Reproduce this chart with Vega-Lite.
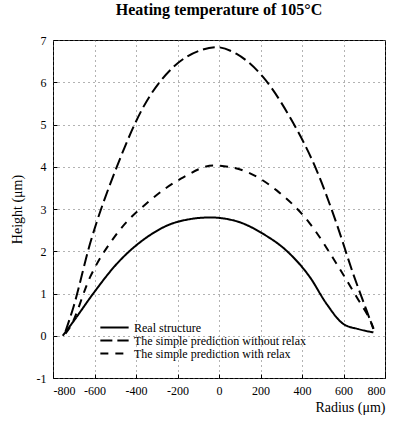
{
  "$schema": "https://vega.github.io/schema/vega-lite/v6.json",
  "autosize": "none",
  "width": 332,
  "height": 338,
  "padding": {"left": 53, "top": 40, "right": 8, "bottom": 47},
  "background": "white",
  "config": {
    "font": "Liberation Serif",
    "view": {"stroke": "black", "strokeWidth": 1},
    "axis": {"labelFont": "Liberation Serif", "titleFont": "Liberation Serif"},
    "legend": {"labelFont": "Liberation Serif"}
  },
  "title": {
    "text": "Heating temperature of 105°C",
    "font": "Liberation Serif",
    "fontSize": 16,
    "fontWeight": "bold",
    "color": "black",
    "offset": 16,
    "anchor": "middle"
  },
  "data": {
    "values": [
      {"series": "Real structure", "r": -753, "h": 0.0},
      {"series": "Real structure", "r": -700, "h": 0.35},
      {"series": "Real structure", "r": -606, "h": 1.0},
      {"series": "Real structure", "r": -493, "h": 1.7},
      {"series": "Real structure", "r": -348, "h": 2.33},
      {"series": "Real structure", "r": -204, "h": 2.69},
      {"series": "Real structure", "r": -43, "h": 2.8},
      {"series": "Real structure", "r": 85, "h": 2.71},
      {"series": "Real structure", "r": 213, "h": 2.41},
      {"series": "Real structure", "r": 326, "h": 2.01},
      {"series": "Real structure", "r": 439, "h": 1.38},
      {"series": "Real structure", "r": 519, "h": 0.75},
      {"series": "Real structure", "r": 599, "h": 0.28},
      {"series": "Real structure", "r": 670, "h": 0.16},
      {"series": "Real structure", "r": 744, "h": 0.08},
      {"series": "The simple prediction without relax", "r": -740, "h": 0.1},
      {"series": "The simple prediction without relax", "r": -702, "h": 0.67},
      {"series": "The simple prediction without relax", "r": -622, "h": 2.17},
      {"series": "The simple prediction without relax", "r": -493, "h": 3.99},
      {"series": "The simple prediction without relax", "r": -365, "h": 5.41},
      {"series": "The simple prediction without relax", "r": -220, "h": 6.36},
      {"series": "The simple prediction without relax", "r": -92, "h": 6.75},
      {"series": "The simple prediction without relax", "r": -11, "h": 6.83},
      {"series": "The simple prediction without relax", "r": 85, "h": 6.67},
      {"series": "The simple prediction without relax", "r": 213, "h": 6.12},
      {"series": "The simple prediction without relax", "r": 342, "h": 5.17},
      {"series": "The simple prediction without relax", "r": 471, "h": 3.91},
      {"series": "The simple prediction without relax", "r": 567, "h": 2.65},
      {"series": "The simple prediction without relax", "r": 647, "h": 1.46},
      {"series": "The simple prediction without relax", "r": 712, "h": 0.59},
      {"series": "The simple prediction without relax", "r": 744, "h": 0.16},
      {"series": "The simple prediction with relax", "r": -740, "h": 0.05},
      {"series": "The simple prediction with relax", "r": -718, "h": 0.2},
      {"series": "The simple prediction with relax", "r": -622, "h": 1.38},
      {"series": "The simple prediction with relax", "r": -493, "h": 2.41},
      {"series": "The simple prediction with relax", "r": -333, "h": 3.2},
      {"series": "The simple prediction with relax", "r": -172, "h": 3.75},
      {"series": "The simple prediction with relax", "r": -27, "h": 4.03},
      {"series": "The simple prediction with relax", "r": 117, "h": 3.91},
      {"series": "The simple prediction with relax", "r": 278, "h": 3.44},
      {"series": "The simple prediction with relax", "r": 439, "h": 2.65},
      {"series": "The simple prediction with relax", "r": 567, "h": 1.7},
      {"series": "The simple prediction with relax", "r": 664, "h": 0.91},
      {"series": "The simple prediction with relax", "r": 736, "h": 0.28},
      {"series": "The simple prediction with relax", "r": 750, "h": 0.1}
    ]
  },
  "mark": {"type": "line", "interpolate": "monotone", "strokeWidth": 2, "color": "black"},
  "encoding": {
    "x": {
      "field": "r",
      "type": "quantitative",
      "scale": {"domain": [-800, 800], "nice": false},
      "axis": {
        "title": "Radius (μm)",
        "titleAnchor": "end",
        "titleFont": "Liberation Serif",
        "titleFontSize": 14,
        "titleFontWeight": "normal",
        "titleColor": "black",
        "titlePadding": 4,
        "values": [-800, -600, -400, -200, 0, 200, 400, 600, 800],
        "labelExpr": "replace(datum.label, '−', '-')",
        "labelFont": "Liberation Serif",
        "labelFontSize": 12,
        "labelColor": "black",
        "labelPadding": 11,
        "tickSize": -4,
        "tickColor": "black",
        "domain": false,
        "grid": true,
        "gridDash": [1, 4],
        "gridColor": "#666",
        "gridWidth": 1
      }
    },
    "y": {
      "field": "h",
      "type": "quantitative",
      "scale": {"domain": [-1, 7], "nice": false},
      "axis": {
        "title": "Height (μm)",
        "titleFont": "Liberation Serif",
        "titleFontSize": 14,
        "titleFontWeight": "normal",
        "titleColor": "black",
        "titlePadding": 12,
        "values": [-1, 0, 1, 2, 3, 4, 5, 6, 7],
        "labelExpr": "replace(datum.label, '−', '-')",
        "labelFont": "Liberation Serif",
        "labelFontSize": 12,
        "labelColor": "black",
        "labelPadding": 11,
        "tickSize": -4,
        "tickColor": "black",
        "domain": false,
        "grid": true,
        "gridDash": [1, 4],
        "gridColor": "#666",
        "gridWidth": 1
      }
    },
    "strokeDash": {
      "field": "series",
      "type": "nominal",
      "scale": {
        "domain": ["Real structure", "The simple prediction without relax", "The simple prediction with relax"],
        "range": [[1, 0], [12, 5], [8, 7]]
      },
      "legend": {
        "title": null,
        "orient": "none",
        "legendX": 46,
        "legendY": 281,
        "labelFont": "Liberation Serif",
        "labelFontSize": 12,
        "labelColor": "black",
        "labelLimit": 400,
        "symbolType": "stroke",
        "symbolSize": 800,
        "symbolStrokeWidth": 2,
        "symbolStrokeColor": "black",
        "clipHeight": 13,
        "rowPadding": 0,
        "labelOffset": 4
      }
    }
  }
}
